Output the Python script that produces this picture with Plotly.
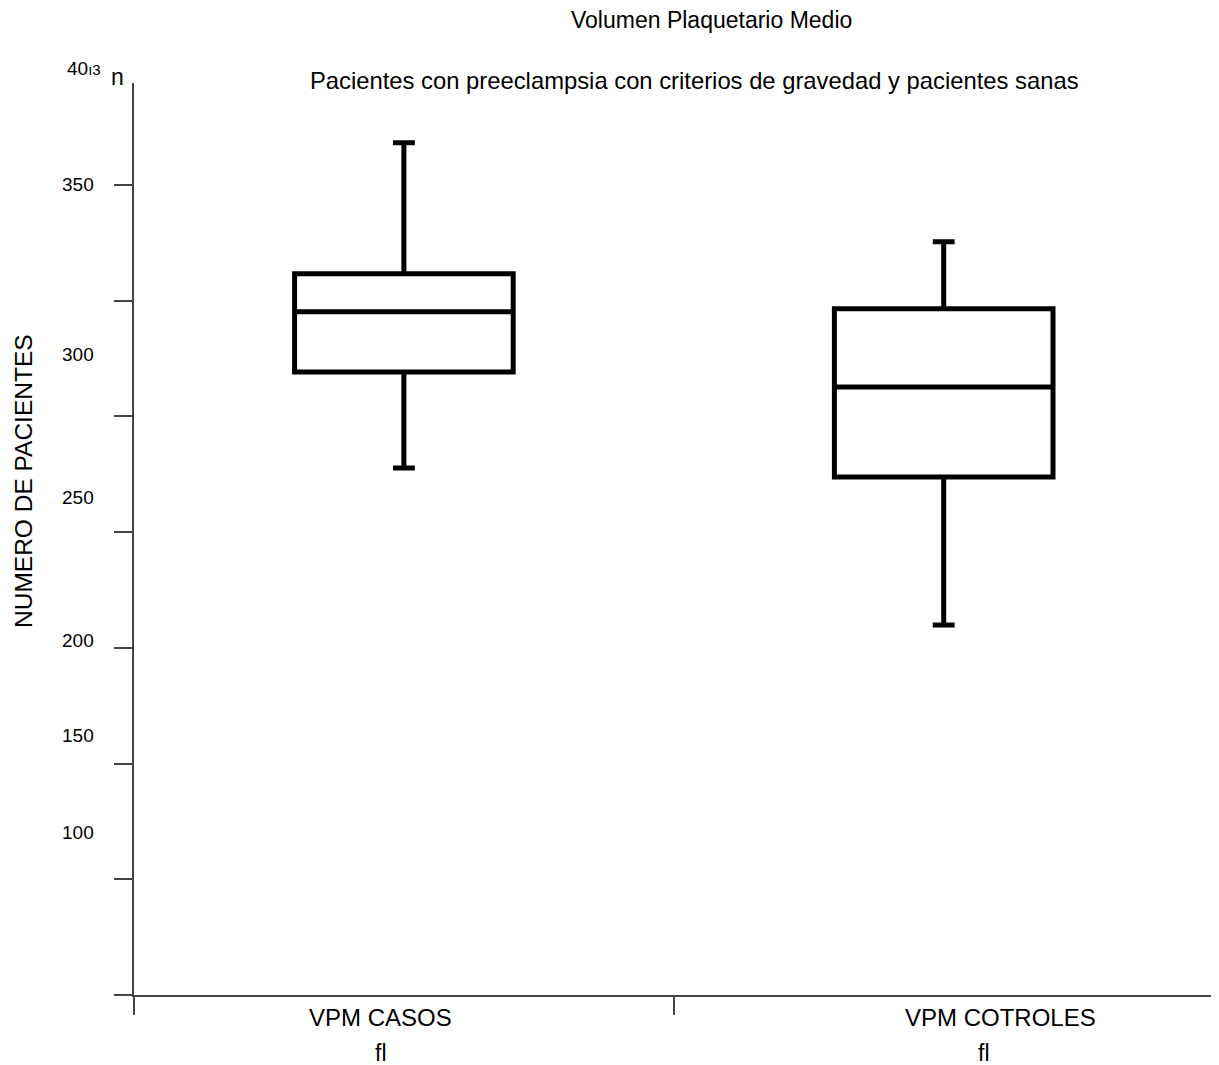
import plotly.graph_objects as go

# Data (y in axis units)
groups = ["VPM CASOS", "VPM COTROLES"]
group_pos = [0, 1]
upper_whisker = [368.2, 325.4]
q3 = [311.6, 296.5]
median = [295.2, 262.7]
q1 = [269.2, 223.8]
lower_whisker = [227.7, 159.9]

# Tick positions on the y axis (unlabelled marks)
y_ticks = [0, 50, 100, 150, 200, 250, 300, 350]
# Printed labels on the y axis and where they sit (axis units)
y_label_text = ["350", "300", "250", "200", "150", "100"]
y_label_pos = [350, 276.6, 214.8, 153.0, 111.9, 70.0]
x_unit = "fl"

FONT = "Liberation Sans, Arial, sans-serif"

fig = go.Figure()
for i, g in enumerate(groups):
    fig.add_trace(go.Box(
        x=[group_pos[i]],
        q1=[q1[i]], median=[median[i]], q3=[q3[i]],
        lowerfence=[lower_whisker[i]], upperfence=[upper_whisker[i]],
        width=0.405, whiskerwidth=0.1,
        fillcolor="white",
        line=dict(color="black", width=5),
        boxpoints=False, hoverinfo="skip", name=g, showlegend=False,
    ))

fig.update_layout(
    width=1211, height=1057,
    margin=dict(l=126, r=0, t=75, b=70),
    paper_bgcolor="white", plot_bgcolor="white",
    font=dict(family=FONT, size=17, color="black"),
    showlegend=False,
)
fig.update_xaxes(
    range=[-0.5, 1.51], tickmode="array", tickvals=[-0.5, 0.5, 1.5],
    showticklabels=False, ticks="outside", ticklen=18, tickwidth=2, tickcolor="#444",
    showline=True, linecolor="#444", linewidth=2, showgrid=False, zeroline=False,
)
fig.update_yaxes(
    range=[0, 394], tickmode="array", tickvals=y_ticks,
    showticklabels=False, ticks="outside", ticklen=18, tickwidth=2, tickcolor="#444",
    showline=True, linecolor="#444", linewidth=2, showgrid=False, zeroline=False,
)

ann = []
for t, p in zip(y_label_text, y_label_pos):
    ann.append(dict(x=0, xref="paper", xanchor="right", xshift=-38, y=p, yref="y",
                    yanchor="middle", text=t, showarrow=False, font=dict(size=19)))
ann.append(dict(x=0, xref="paper", xanchor="right", xshift=-31, y=1, yref="paper",
                yanchor="middle", yshift=15, text="40<span style='font-size:15px'>ı3</span>",
                showarrow=False, font=dict(size=19)))
ann.append(dict(x=0, xref="paper", xanchor="center", xshift=-17, y=1, yref="paper",
                yanchor="middle", yshift=6, text="n", showarrow=False, font=dict(size=23)))
label_shift = [-23, 57]
unit_shift = [-23, 40]
for i, g in enumerate(groups):
    ann.append(dict(x=group_pos[i], xref="x", xshift=label_shift[i], y=0, yref="paper",
                    yanchor="middle", yshift=-22, text=g, showarrow=False, font=dict(size=24)))
    ann.append(dict(x=group_pos[i], xref="x", xshift=unit_shift[i], y=0, yref="paper",
                    yanchor="middle", yshift=-58, text=x_unit, showarrow=False, font=dict(size=23)))
fig.update_layout(annotations=ann)
fig.add_annotation(x=(711 - 134) / 1085, xref="paper", xanchor="center",
                   y=1, yref="paper", yshift=63, yanchor="middle",
                   text="Volumen Plaquetario Medio", showarrow=False, font=dict(size=23))
fig.add_annotation(x=(694 - 134) / 1085, xref="paper", xanchor="center",
                   y=1, yref="paper", yshift=3, yanchor="middle",
                   text="Pacientes con preeclampsia con criterios de gravedad y pacientes sanas",
                   showarrow=False, font=dict(size=23.8))
fig.add_annotation(x=0, xref="paper", xanchor="center", xshift=-111, y=0.5, yref="paper",
                   yshift=58, yanchor="middle",
                   textangle=-90, text="NUMERO DE PACIENTES", showarrow=False,
                   font=dict(size=24.5))

fig.write_html("out.html")
